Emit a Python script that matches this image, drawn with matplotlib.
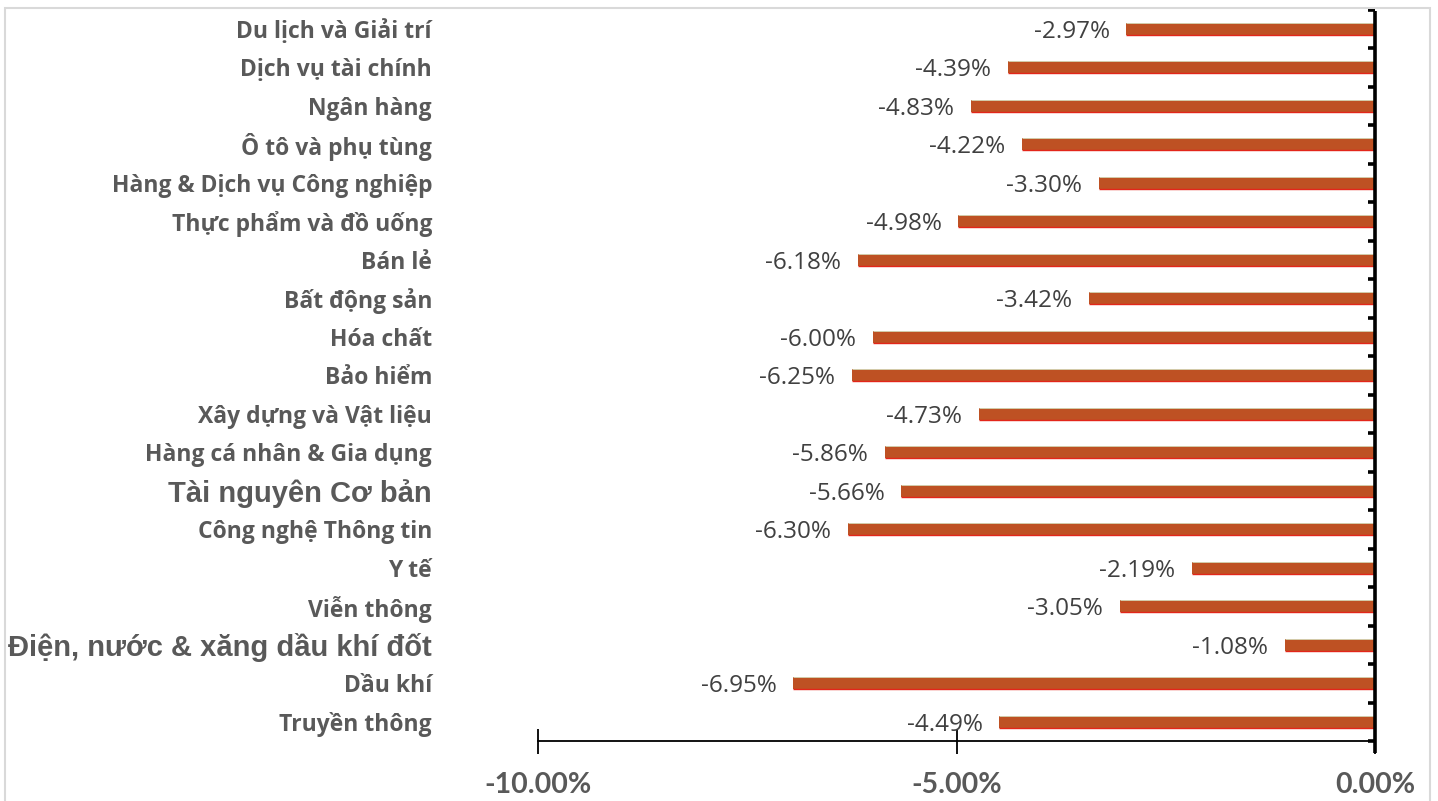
import matplotlib
matplotlib.use("Agg")
import matplotlib.pyplot as plt
import matplotlib.transforms as mtransforms
from matplotlib.patches import Rectangle
import numpy as np

categories = [
    "Du lịch và Giải trí", "Dịch vụ tài chính", "Ngân hàng", "Ô tô và phụ tùng",
    "Hàng & Dịch vụ Công nghiệp", "Thực phẩm và đồ uống", "Bán lẻ", "Bất động sản",
    "Hóa chất", "Bảo hiểm", "Xây dựng và Vật liệu", "Hàng cá nhân & Gia dụng",
    "Tài nguyên Cơ bản", "Công nghệ Thông tin", "Y tế", "Viễn thông",
    "Điện, nước & xăng dầu khí đốt", "Dầu khí", "Truyền thông",
]
values = [-2.97, -4.39, -4.83, -4.22, -3.30, -4.98, -6.18, -3.42, -6.00, -6.25,
          -4.73, -5.86, -5.66, -6.30, -2.19, -3.05, -1.08, -6.95, -4.49]
# labels drawn in a different (Arial-like) font in the original
arial_labels = {"Tài nguyên Cơ bản", "Điện, nước & xăng dầu khí đốt"}
xticks = [-10, -5, 0]

W, H = 1438, 801
fig = plt.figure(figsize=(W / 100, H / 100), dpi=100)
fig.patch.set_facecolor("white")

left, right = 538 / W, 1375 / W
bottom, top = (H - 741) / H, (H - 9.5) / H
ax = fig.add_axes([left, bottom, right - left, top - bottom])

n = len(categories)
y = np.arange(n)
bh = 0.31
ax.barh(y, values, height=bh, color="#BE5123", edgecolor="none", zorder=2)
ax.hlines(y + bh / 2, values, 0, color="#E3261A", lw=1.0, zorder=3)
ax.hlines(y - bh / 2, values, 0, color="#D8E2C4", lw=0.6, zorder=3)

ax.set_xlim(-10, 0)
ax.set_ylim(n - 0.5, -0.5)

for s in ["top", "left", "right"]:
    ax.spines[s].set_visible(False)
ax.spines["bottom"].set_linewidth(1.3)
ax.spines["bottom"].set_color("black")

# vertical axis at 0
ax.plot([0, 0], [-0.47, n - 0.2], color="black", lw=2.6, clip_on=False, zorder=4,
        solid_capstyle="butt")
for b in np.arange(-0.5, n, 1.0):
    ax.plot([-0.085, 0], [b, b], color="black", lw=2.6, clip_on=False, zorder=4,
            solid_capstyle="butt")

ax.set_yticks([])
ax.set_xticks(xticks)
ax.set_xticklabels([f"{v:.2f}%" for v in xticks])
ax.tick_params(axis="x", direction="inout", length=18, width=1.3, pad=13.5,
               labelsize=20.5, labelcolor="#595959")
for t in ax.get_xticklabels():
    t.set_fontfamily("Lato")
    t.set_fontweight("bold")

# category labels
base = mtransforms.blended_transform_factory(fig.transFigure, ax.transData)
trans = base + mtransforms.ScaledTranslation(0, -2 / 72, fig.dpi_scale_trans)
for yi, c in zip(y, categories):
    if c in arial_labels:
        ax.text(432 / W, yi, c, transform=trans, ha="right", va="center",
                fontsize=21, fontweight="bold", family="Liberation Sans", color="#595959")
    else:
        ax.text(432 / W, yi, c, transform=trans, ha="right", va="center",
                fontsize=16.5, fontweight="bold", family="Open Sans", color="#595959")

# data labels
for yi, v in zip(y, values):
    ax.annotate(f"{v:.2f}%", (v, yi), xytext=(-12, -2), textcoords="offset points",
                ha="right", va="center", fontsize=17.5, family="Open Sans", color="#404040")

# chart border
fig.add_artist(Rectangle((5 / W, -0.05), 1425 / W, 1.05 - 8 / H, transform=fig.transFigure,
                         fill=False, edgecolor="#D9D9D9", lw=1.5))

fig.savefig("out.png", dpi=100)
